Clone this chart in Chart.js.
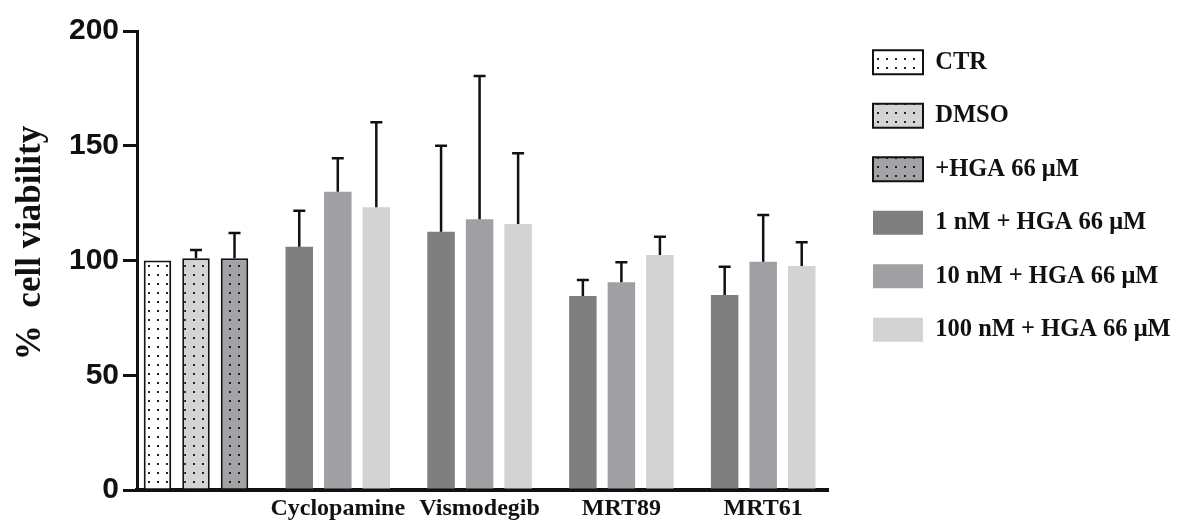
<!DOCTYPE html>
<html>
<head>
<meta charset="utf-8">
<script src="https://cdn.jsdelivr.net/npm/chart.js@4"></script>
<style>
  body { margin: 0; background: #fff; }
  canvas { display: block; }
</style>
</head>
<body>
<canvas id="myChart" width="1181" height="524"></canvas>
<script>
'use strict';

let groupLabels = ['', 'Cyclopamine', 'Vismodegib', 'MRT89', 'MRT61'];
let seriesNames = ['CTR', 'DMSO', '+HGA 66 μM', '1 nM + HGA 66 μM', '10 nM + HGA 66 μM', '100 nM + HGA 66 μM'];

let ctrValues = [100, null, null, null, null];
let ctrErr = [0, null, null, null, null];
let dmsoValues = [101, null, null, null, null];
let dmsoErr = [3.6, null, null, null, null];
let hgaValues = [101, null, null, null, null];
let hgaErr = [11, null, null, null, null];
let nm1Values = [null, 106, 112.5, 84.5, 85];
let nm1Err = [null, 15.7, 37.5, 7, 12.3];
let nm10Values = [null, 130, 118, 90.5, 99.5];
let nm10Err = [null, 14.5, 62.4, 8.7, 20.3];
let nm100Values = [null, 123.2, 115.9, 102.4, 97.6];
let nm100Err = [null, 37, 30.8, 8, 10.3];

let yTicks = [0, 50, 100, 150, 200];

// dotted fill like the prism hatch
function dots(bg) {
    let c = document.createElement('canvas');
    c.width = 9;
    c.height = 9;
    let g = c.getContext('2d');
    g.fillStyle = bg;
    g.fillRect(0, 0, 9, 9);
    g.fillStyle = '#222';
    g.fillRect(4, 4, 2, 2);
    return g.createPattern(c, 'repeat');
}

function points(values) {
    return values.map((v, i) => ({ x: i, y: v }));
}

let allValues = [ctrValues, dmsoValues, hgaValues, nm1Values, nm10Values, nm100Values];
let allErr = [ctrErr, dmsoErr, hgaErr, nm1Err, nm10Err, nm100Err];
let fills = [dots('#ffffff'), dots('#d4d4d4'), dots('#a3a3a7'), '#7f7f7f', '#a0a0a4', '#d3d3d3'];

let datasets = [];
for (let i = 0; i < allValues.length; i++) {
    datasets.push({
        label: seriesNames[i],
        data: points(allValues[i]),
        backgroundColor: fills[i],
        borderColor: '#111',
        borderWidth: i < 3 ? 2 : 0,
        skipNull: true,
        categoryPercentage: 0.815,
        barPercentage: 0.714
    });
}

let errorBars = {
    id: 'errorBars',
    afterDatasetsDraw(chart) {
        let ctx = chart.ctx;
        let yScale = chart.scales.y;
        ctx.save();
        ctx.strokeStyle = '#111';
        ctx.lineWidth = 2.5;
        for (let d = 0; d < allValues.length; d++) {
            let meta = chart.getDatasetMeta(d);
            meta.data.forEach((bar, j) => {
                let v = allValues[d][j];
                let e = allErr[d][j];
                if (v == null || !e) return;
                let top = yScale.getPixelForValue(v + e);
                ctx.beginPath();
                ctx.moveTo(bar.x, bar.y);
                ctx.lineTo(bar.x, top);
                ctx.moveTo(bar.x - 6, top);
                ctx.lineTo(bar.x + 6, top);
                ctx.stroke();
            });
        }
        ctx.restore();
    }
};

// the right legend is capped at a quarter of the width, widen it
// and leave a gap between the x axis end and the legend boxes
let wideLegend = {
    id: 'wideLegend',
    beforeLayout(chart) {
        let legend = chart.legend;
        if (!legend || legend._wide) return;
        let fit = legend.fit;
        legend.fit = function () {
            fit.call(this);
            this.width = 353;
        };
        legend._wide = true;
    },
    afterLayout(chart) {
        chart.legend.left += 16;
    }
};

let ctx = document.getElementById('myChart').getContext('2d');
let myChart = new Chart(ctx, {
    type: 'bar',
    data: { datasets: datasets },
    plugins: [errorBars, wideLegend],
    options: {
        responsive: false,
        animation: false,
        devicePixelRatio: 1,
        layout: { padding: { left: 0, top: 0, right: 0, bottom: 0 } },
        plugins: {
            tooltip: { enabled: false },
            legend: {
                position: 'right',
                align: 'start',
                title: { display: true, text: ' ', font: { size: 10 }, padding: { top: 0, bottom: 9 } },
                labels: {
                    boxWidth: 50,
                    boxHeight: 24,
                    padding: 29,
                    color: '#111',
                    font: { family: '"Liberation Serif", "Times New Roman", serif', size: 24.5, weight: 'bold' }
                }
            }
        },
        scales: {
            x: {
                type: 'linear',
                offset: false,
                min: -0.416,
                max: 4.457,
                grid: { display: false, drawTicks: false },
                border: { display: true, color: '#111', width: 4 },
                afterBuildTicks: (scale) => {
                    scale.ticks = groupLabels.map((l, i) => ({ value: i }));
                },
                afterFit: (scale) => { scale.height = 34; },
                ticks: {
                    padding: 4,
                    color: '#111',
                    maxRotation: 0,
                    autoSkip: false,
                    font: { family: '"Liberation Serif", "Times New Roman", serif', size: 24, weight: 'bold' },
                    callback: (value) => groupLabels[value] || ''
                }
            },
            y: {
                min: 0,
                max: 200,
                afterBuildTicks: (scale) => {
                    scale.ticks = yTicks.map(v => ({ value: v }));
                },
                afterFit: (scale) => { scale.width = 137; },
                grid: { drawOnChartArea: false, drawTicks: true, tickLength: 14, tickWidth: 3, tickColor: '#111', color: '#111', lineWidth: 3 },
                border: { display: true, color: '#111', width: 3 },
                title: {
                    display: true,
                    text: '    %  cell viability',
                    color: '#111',
                    padding: { top: 10, bottom: 0 },
                    font: { family: '"Liberation Serif", "Times New Roman", serif', size: 35, weight: 'bold' }
                },
                ticks: {
                    padding: 4,
                    color: '#111',
                    font: { family: '"Liberation Sans", Arial, sans-serif', size: 30, weight: 'bold', lineHeight: 1.8 }
                }
            }
        }
    }
});
</script>
</body>
</html>
